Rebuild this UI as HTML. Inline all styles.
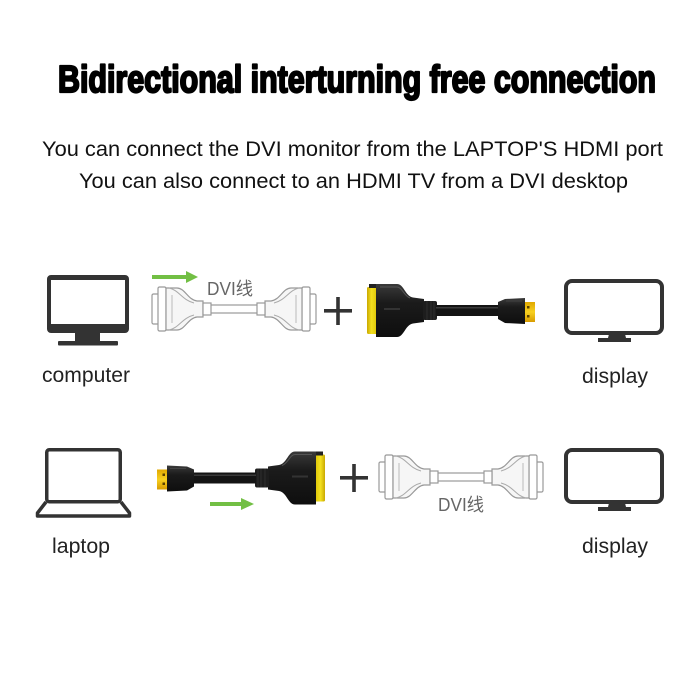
<!DOCTYPE html>
<html>
<head>
<meta charset="utf-8">
<style>
  html, body { margin: 0; padding: 0; background: #fff; }
  svg { display: block; }
</style>
</head>
<body>
<svg width="700" height="700" viewBox="0 0 700 700" xmlns="http://www.w3.org/2000/svg">
  <rect width="700" height="700" fill="#ffffff"/>
  <defs>
    <g id="dvic">
      <rect x="0" y="-15" width="7" height="30" rx="1.5" fill="#fff" stroke="#999" stroke-width="1.2"/>
      <rect x="6" y="-22" width="8" height="44" rx="1.5" fill="#fff" stroke="#999" stroke-width="1.2"/>
      <path d="M14,-21 L25,-21 C33,-21 36,-9 45,-8 L51,-8 L51,8 L45,8 C36,9 33,21 25,21 L14,21 Z" fill="#f6f6f6" stroke="#999" stroke-width="1.2"/>
      <path d="M17,-21 C27,-19 30,-9 42,-6" fill="none" stroke="#aaa" stroke-width="1"/>
      <path d="M17,21 C27,19 30,9 42,6" fill="none" stroke="#aaa" stroke-width="1"/>
      <path d="M20,-14 L20,14" fill="none" stroke="#bbb" stroke-width="1"/>
      <rect x="51" y="-6" width="8" height="12" fill="#fff" stroke="#999" stroke-width="1.2"/>
    </g>
    <g id="dvicable">
      <rect x="58" y="-4" width="48" height="8" fill="#fff" stroke="#999" stroke-width="1.2"/>
      <use href="#dvic"/>
      <use href="#dvic" transform="translate(164,0) scale(-1,1)"/>
    </g>
    <linearGradient id="yel" x1="0" y1="0" x2="1" y2="0">
      <stop offset="0" stop-color="#c9a800"/>
      <stop offset="0.4" stop-color="#f3e020"/>
      <stop offset="1" stop-color="#d9c000"/>
    </linearGradient>
    <linearGradient id="gold" x1="0" y1="0" x2="0" y2="1">
      <stop offset="0" stop-color="#e0a800"/>
      <stop offset="0.5" stop-color="#f7d020"/>
      <stop offset="1" stop-color="#d89c00"/>
    </linearGradient>
    <linearGradient id="blk" x1="0" y1="0" x2="0" y2="1">
      <stop offset="0" stop-color="#3a3a3a"/>
      <stop offset="0.35" stop-color="#1b1b1b"/>
      <stop offset="1" stop-color="#0e0e0e"/>
    </linearGradient>
    <g id="adapter">
      <rect x="367" y="287" width="11" height="47" rx="1.5" fill="url(#yel)"/>
      <rect x="369" y="284" width="9" height="4" fill="#222"/>
      <path d="M376,284 L397,284 C404,284 405,296 413,297.5 L424,299 L424,322 L413,323.5 C405,325 404,337 397,337 L376,337 Z" fill="url(#blk)"/>
      <path d="M380,287 L397,287 C402,287 404,296 410,298" fill="none" stroke="#555" stroke-width="1"/>
      <rect x="384" y="308" width="16" height="2" fill="#333"/>
      <rect x="423" y="301" width="14" height="19" rx="2" fill="#1d1d1d"/>
      <path d="M427,301 V320 M431,301 V320 M434,301 V320" stroke="#333" stroke-width="0.8"/>
      <rect x="436" y="305" width="64" height="11" fill="#141414"/>
      <rect x="436" y="307" width="64" height="1.5" fill="#3a3a3a"/>
      <path d="M498,302 L505,299 L525,298 L525,324 L505,323 L498,319 Z" fill="url(#blk)"/>
      <path d="M506,301 L522,301" stroke="#444" stroke-width="1"/>
      <rect x="525" y="302" width="10" height="20" fill="url(#gold)"/>
      <rect x="527" y="306" width="2.5" height="2.5" fill="#5a4000"/>
      <rect x="527" y="315" width="2.5" height="2.5" fill="#5a4000"/>
    </g>
  </defs>

  <!-- Title -->
  <text x="58" y="92" font-family="'Liberation Sans Narrow','Liberation Sans',sans-serif" font-weight="bold" font-size="38" fill="#000" stroke="#000" stroke-width="2.2" stroke-linejoin="round" textLength="598" lengthAdjust="spacingAndGlyphs">Bidirectional interturning free connection</text>

  <!-- Subtitles -->
  <text x="42" y="156" font-family="'Liberation Sans',sans-serif" font-size="21" fill="#111" textLength="621" lengthAdjust="spacingAndGlyphs">You can connect the DVI monitor from the LAPTOP'S HDMI port</text>
  <text x="79" y="188" font-family="'Liberation Sans',sans-serif" font-size="21" fill="#111" textLength="549" lengthAdjust="spacingAndGlyphs">You can also connect to an HDMI TV from a DVI desktop</text>

  <!-- ===== Row 1 ===== -->
  <rect x="47" y="275" width="82" height="58" rx="4" fill="#333"/>
  <rect x="51" y="280" width="74" height="44" fill="#fff"/>
  <rect x="75" y="332" width="25" height="10" fill="#333"/>
  <rect x="58" y="341" width="60" height="4.5" rx="1" fill="#333"/>
  <text x="42" y="382" font-family="'Liberation Sans',sans-serif" font-size="21" fill="#222" textLength="88" lengthAdjust="spacingAndGlyphs">computer</text>

  <rect x="152" y="275" width="36" height="4" fill="#72bf44"/>
  <polygon points="186,271 198,277 186,283" fill="#72bf44"/>

  <use href="#dvicable" transform="translate(152,309)"/>
  <text x="207" y="295" font-family="'Liberation Sans','Noto Sans CJK SC',sans-serif" font-size="18" fill="#666" textLength="46" lengthAdjust="spacingAndGlyphs">DVI线</text>

  <rect x="324" y="309" width="28" height="3.6" fill="#333"/>
  <rect x="336.2" y="297" width="3.6" height="28" fill="#333"/>

  <use href="#adapter"/>

  <rect x="566" y="281" width="96" height="52" rx="6" fill="#fff" stroke="#333" stroke-width="4"/>
  <polygon points="609,334 625,334 626,338 631,338 631,342 598,342 598,338 608,338" fill="#333"/>
  <text x="582" y="383" font-family="'Liberation Sans',sans-serif" font-size="21" fill="#222" textLength="66" lengthAdjust="spacingAndGlyphs">display</text>

  <!-- ===== Row 2 ===== -->
  <rect x="46.75" y="449.75" width="73.5" height="52" rx="2.5" fill="#fff" stroke="#333" stroke-width="3.5"/>
  <path d="M46,502 L37.5,513 L37.5,516 L129.5,516 L129.5,513 L121,502" fill="none" stroke="#333" stroke-width="3.5" stroke-linejoin="round"/>
  <text x="52" y="553" font-family="'Liberation Sans',sans-serif" font-size="21" fill="#222" textLength="58" lengthAdjust="spacingAndGlyphs">laptop</text>

  <use href="#adapter" transform="translate(692,167.5) scale(-1,1)"/>

  <rect x="210" y="502" width="33" height="4" fill="#72bf44"/>
  <polygon points="241,498 254,504 241,510" fill="#72bf44"/>

  <rect x="340" y="476" width="28" height="3.6" fill="#333"/>
  <rect x="352.2" y="464" width="3.6" height="28" fill="#333"/>

  <use href="#dvicable" transform="translate(379,477)"/>
  <text x="438" y="511" font-family="'Liberation Sans','Noto Sans CJK SC',sans-serif" font-size="18" fill="#666" textLength="46" lengthAdjust="spacingAndGlyphs">DVI线</text>

  <rect x="566" y="450" width="96" height="52" rx="6" fill="#fff" stroke="#333" stroke-width="4"/>
  <polygon points="609,503 625,503 626,507 631,507 631,511 598,511 598,507 608,507" fill="#333"/>
  <text x="582" y="553" font-family="'Liberation Sans',sans-serif" font-size="21" fill="#222" textLength="66" lengthAdjust="spacingAndGlyphs">display</text>
</svg>
</body>
</html>
